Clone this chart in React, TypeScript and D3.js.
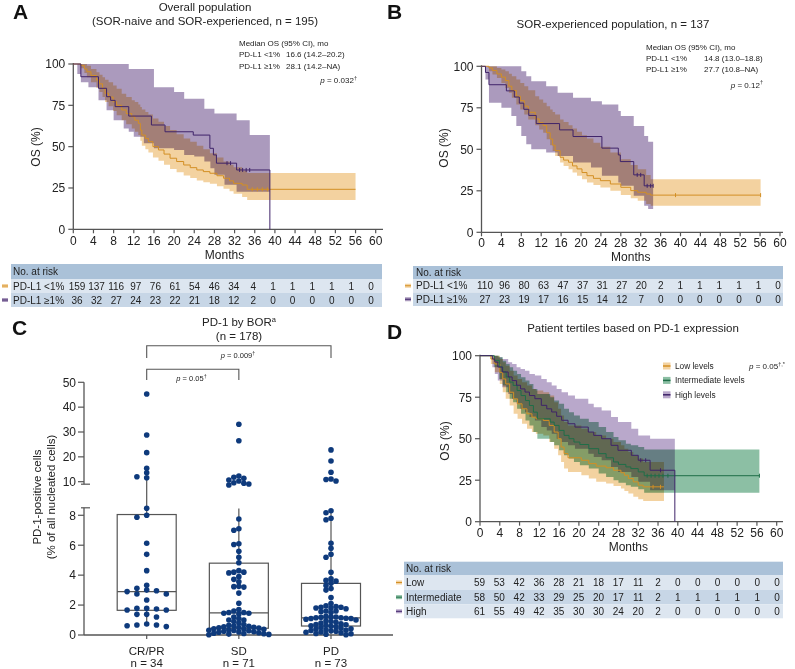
import React from 'react';
import * as d3 from 'd3';

type Pt = [number, number];
type Band = [number, number, number];

const FONT = '"Liberation Sans", Arial, Helvetica, sans-serif';

// ---------- shared ----------
const monthTicks = [0, 4, 8, 12, 16, 20, 24, 28, 32, 36, 40, 44, 48, 52, 56, 60];
const osTicks = [0, 25, 50, 75, 100];

// ---------- Panel A : overall population ----------
const aLowLine: Pt[] = [[0,100],[1.5,99],[2.2,97],[2.7,95.3],[3.5,93],[4.6,90.3],[5.2,88],[5.8,85],[6.3,82.3],[7,80],[7.9,77.2],[8.6,75],[9.6,72.2],[10.5,70],[11.6,68.1],[12.2,66],[12.9,64.1],[13.3,60],[13.6,57],[14.3,55],[14.9,53],[15.8,50],[16.9,48],[18,45.5],[19.2,43],[20.5,41],[21.9,38.9],[23.2,37.3],[24.5,35.9],[25.8,34.9],[27.1,33.9],[28.5,32.4],[29.8,30.9],[31,29.3],[31.8,27.8],[33.5,26.8],[34.5,24.2],[56,24.2]];
const aLowBand: Band[] = [[0,100,100],[1.5,97.5,100],[2.2,94.5,100],[2.7,92,99],[3.5,89,97],[4.6,85.5,95],[5.2,83,93.5],[5.8,80,92],[6.3,77,90.5],[7,74.5,89],[7.9,71.5,87],[8.6,69,85],[9.6,66,82],[10.5,63.5,80],[11.6,61,78],[12.2,59,77],[12.9,57,75.5],[13.3,53.5,74],[13.6,50.5,72.5],[14.3,48.5,71],[14.9,46.5,69.5],[15.8,43.5,67],[16.9,41.5,65],[18,39,62.5],[19.2,36.5,60],[20.5,34.5,57.5],[21.9,32.5,55],[23.2,31,53],[24.5,29.5,50.5],[25.8,28.5,48.5],[27.1,27.5,46],[28.5,26,43.5],[29.8,24.5,41],[31,23,39],[31.8,21.5,37.5],[33.5,19.5,35.5],[34.5,17.7,34],[56,17.7,34]];
const aHighLine: Pt[] = [[0,100],[1.5,92.3],[5,85.3],[6.6,80.2],[7.4,78],[8.3,74.2],[11,68.5],[15.5,63.1],[18.2,59],[23.8,57],[27.1,49],[27.8,45],[28.4,40],[32.4,35.9],[39,0]];
const aHighBand: Band[] = [[0,100,100],[0.8,94,100],[1.5,89,100],[3,86,100],[5,78,100],[6.6,72,100],[8,66,100],[10,61,100],[11,59,97],[12,56,97],[14,52,97],[16,49,86],[20,48,83],[22,45,79],[24,44,79],[26,41,73],[27.2,37,73],[28,33,70],[30,27,70],[32.4,22.7,66],[35,22.7,57],[39,22.7,57]];
const aLowCensor = [35.5, 36.5, 37.5, 38.5];
const aHighCensor = [30.5, 31.2, 33, 33.6, 34.3, 35];
const aRiskLow = [159,137,116,97,76,61,54,46,34,4,1,1,1,1,1,0];
const aRiskHigh = [36,32,27,24,23,22,21,18,12,2,0,0,0,0,0,0];

// ---------- Panel B : SOR-experienced ----------
const bLowLine: Pt[] = [[0,100],[1.5,99],[2.2,97.5],[3.1,95.4],[4,93.5],[4.8,91.4],[5.5,88],[6.1,85.4],[7,82],[7.8,79.3],[8.6,76],[9.4,72.3],[10.8,68.3],[11.6,66],[12.4,64.3],[13.1,60],[13.8,56.2],[14.3,52.5],[14.8,49.2],[15.8,45.2],[16.5,43.5],[17.5,42.2],[18.3,40],[19.2,38.2],[20.2,36],[21.2,34.1],[22.5,32.5],[23.9,31.1],[25.9,29.1],[28,27.1],[30,25.1],[31.4,24.1],[33.1,23.1],[34,22.4],[56.1,22.4]];
const bLowBand: Band[] = [[0,100,100],[1.5,97,100],[2.2,95,100],[3.1,93,99],[4,90,98],[4.8,87,97],[5.5,84,95.5],[6.1,81,94],[7,77,92],[7.8,74,90],[8.6,71,88],[9.4,68,85.5],[10.8,64.5,82],[11.6,62,80],[12.4,60,78],[13.1,56,76],[13.8,52.5,74],[14.3,49,72.5],[14.8,46,71],[15.8,42,68],[16.5,40,66.5],[17.5,38,64.5],[18.3,36,62.5],[19.2,34,60.5],[20.2,32,58.5],[21.2,30,56.5],[22.5,28.5,54],[23.9,27,51.5],[25.9,25,48],[28,22.5,44],[30,20.5,40.5],[31.4,19,38],[33.1,17,34.5],[34,16,32],[56.1,16,32]];
const bHighLine: Pt[] = [[0,100],[0.8,96.3],[1.5,88.9],[5,85.2],[6.6,81.5],[7.6,77.8],[8.5,74.1],[9.5,70.4],[11,65.5],[15.7,61.7],[18.4,57.7],[24.2,50.7],[27.5,46.6],[27.9,42.6],[30.6,34.6],[32.7,28],[34.5,28]];
const bHighBand: Band[] = [[0,100,100],[0.8,92,100],[1.5,78,100],[4,75,100],[6,70,100],[7,64,100],[8,58,97],[9,53,94],[10,50,91],[13,48,88],[15.3,46,84],[18.4,42,81],[22,39,79],[24.2,34,77],[27.5,30,73],[28,28,70],[30.6,22,64],[32.7,16,58],[33.5,14,54.5],[34.5,14,54.5]];
const bLowCensor = [39, 56.1];
const bHighCensor = [31.3, 32, 33.3, 34, 34.5];
const bRiskLow = [110,96,80,63,47,37,31,27,20,2,1,1,1,1,1,0];
const bRiskHigh = [27,23,19,17,16,15,14,12,7,0,0,0,0,0,0,0];

// ---------- Panel C : PD-1 by BOR ----------
const borCategories = ['CR/PR', 'SD', 'PD'];
const borN = ['n = 34', 'n = 71', 'n = 73'];
const crprValues = [45.3,28.8,21.7,15.4,13.6,12.0,11.6,8.47,8.0,7.87,6.13,5.39,4.3,3.32,3.12,3.0,2.96,2.9,2.74,2.74,2.34,1.78,1.78,1.74,1.67,1.67,1.38,1.38,1.2,0.74,0.67,0.67,0.62,0.56];
const sdValues = [33.1,26.5,12.3,11.8,11.4,10.7,10.3,9.6,9.4,9.1,8.7,7.75,7.1,7.0,6.1,6.05,5.6,5.2,4.83,4.3,4.2,4.2,4.15,3.9,3.72,3.56,3.25,3.23,3.2,2.8,2.12,1.7,1.6,1.5,1.5,1.45,1.45,1.4,1.2,1.1,1.0,1.0,0.9,0.8,0.7,0.65,0.6,0.58,0.55,0.52,0.5,0.48,0.46,0.42,0.4,0.38,0.35,0.32,0.3,0.28,0.25,0.22,0.2,0.18,0.15,0.12,0.1,0.08,0.06,0.04,0.02];
const pdValues = [22.8,18.3,13.8,11.1,10.9,10.3,8.3,8.17,7.8,7.7,6.13,5.8,5.4,5.2,4.19,3.75,3.65,3.6,3.45,3.3,3.1,3.0,2.5,2.1,1.95,1.9,1.85,1.85,1.8,1.8,1.75,1.6,1.6,1.55,1.5,1.25,1.2,1.2,1.18,1.15,1.15,1.12,1.1,1.1,1.05,1.0,0.95,0.9,0.85,0.8,0.75,0.7,0.68,0.65,0.62,0.58,0.55,0.5,0.45,0.42,0.4,0.35,0.32,0.3,0.28,0.25,0.2,0.18,0.15,0.1,0.08,0.05,0.02];
const boxQ1 = [1.65, 0.45, 0.6];
const boxMedian = [2.9, 1.48, 1.15];
const boxQ3 = [8.05, 4.8, 3.45];
const whiskerHi = [11.6, 8.45, 8.3];
const whiskerLo = [0.6, 0.05, 0.05];
const cUpperTicks = [10, 20, 30, 40, 50];
const cLowerTicks = [0, 2, 4, 6, 8];

// ---------- Panel D : PD-1 tertiles ----------
const dLowLine: Pt[] = [[0,100],[2.2,98],[3,95],[4,90],[4.6,86],[5.2,83],[6,78],[6.8,74],[7.6,71],[8.5,68],[9.5,65],[10.5,63],[11.3,62],[12.8,61],[14,58],[15,54],[15.8,50],[16.4,45],[17,41],[17.8,38.5],[20.5,37],[22,35],[23.5,33.5],[25.5,32.5],[27,31],[28.5,29.5],[29.2,28],[30,26],[31,24],[32,22],[33,21],[37.2,21]];
const dLowBand: Band[] = [[0,100,100],[2.2,95,100],[3,90,100],[4,83,98],[4.6,78,96],[5.2,74,94],[6,70,91],[6.8,65,88],[7.6,62,86],[8.5,59,84],[9.5,56,82],[10.5,54,80],[11.3,53,79],[12.8,52,78],[14,48,76],[15,44,72],[15.8,40,68],[16.4,36,64],[17,32,60],[17.8,30,58],[20.5,28,56],[22,26,54],[23.5,24,52],[25.5,23,50],[27,21.5,48],[28.5,20,46],[29.2,18.5,44],[30,17,42],[31,15,40],[32,13.5,38],[33,12.5,36],[37.2,12.5,35]];
const dIntLine: Pt[] = [[0,100],[2.9,97.2],[3.9,93.2],[4.6,90.2],[5.3,87.2],[6,84.1],[6.7,82.1],[7.5,79],[8.3,76],[9.2,73],[10,70],[10.8,66],[11.6,62],[14.2,60],[15,58],[16,55],[17,52],[18,50],[19,48],[20.2,46.5],[22,44],[24,41],[25.5,38.5],[27,36],[28,34.5],[29.5,33],[30.5,32],[32,30],[33.2,27.7],[56.5,27.7]];
const dIntBand: Band[] = [[0,100,100],[2.9,93,100],[3.9,86,99],[4.6,82,97],[5.3,78,95],[6,74,93],[6.7,72,91],[7.5,68,89],[8.3,65,87],[9.2,61,85],[10,58,83],[10.8,54,80],[11.6,50,77],[14.2,48,75],[15,46,73],[16,43,71],[17,40,68],[18,38,66],[19,36,64],[20.2,34,62],[22,32,60],[24,29,57],[25.5,27,54],[27,25,51],[28,23.5,49],[29.5,22,47],[30.5,21,46],[32,19.5,45],[33.2,17.5,43.5],[56.5,17.5,43.5]];
const dHighLine: Pt[] = [[0,100],[2.5,98],[3,96.2],[3.6,93.2],[4.5,90.2],[5.7,87.2],[6.5,85],[7.4,82.2],[8.2,80],[9.1,78.1],[10,76],[11.1,74.1],[12.4,70.1],[13.5,68],[14.5,66.1],[15.5,63.5],[16.5,61.1],[17.8,59],[19.2,57],[21.9,54],[23,52],[24.6,50],[26.5,46],[27.9,43],[30.6,40],[32,37],[34.4,31],[39.4,0]];
const dHighBand: Band[] = [[0,100,100],[2.5,93,100],[3,89,100],[3.6,85,99],[4.5,81,98],[5.7,77,96],[6.5,74,95],[7.4,71,93],[8.2,68,92],[9.1,66,91],[10,63,89],[11.1,61,88],[12.4,57,86],[13.5,55,84],[14.5,53,82],[15.5,50,80],[16.5,48,78],[17.8,46,76],[19.2,44,74],[21.9,41,71],[23,39,69],[24.6,37,67],[26.5,33,63],[27.9,30,60],[30.6,27,56],[32,24,52],[34.4,19,50],[39.4,19,50]];
const dLowCensor = [35, 36.5];
const dIntCensor = [33.8, 34.6, 35.4, 36.2, 37, 38, 56.5];
const dHighCensor = [32.5, 33.5, 36.5];
const dRiskLow = [59,53,42,36,28,21,18,17,11,2,0,0,0,0,0,0];
const dRiskInt = [58,50,42,33,29,25,20,17,11,2,1,1,1,1,1,0];
const dRiskHigh = [61,55,49,42,35,30,30,24,20,2,0,0,0,0,0,0];
const dLegend = ['Low levels', 'Intermediate levels', 'High levels'];

// ---------- colours ----------
const ORANGE_LINE = '#d38f24';
const ORANGE_BAND = '#f3d2a0';
const PURPLE_LINE = '#3f2369';
const PURPLE_BAND = '#ab9abd';
const PURPLE_BAND_D = '#b9a8cb';
const GREEN_LINE = '#1f6e48';
const GREEN_BAND = '#8cbfa4';
const AXIS = '#555';
const DOT = '#0e3a7c';
const TBL_HEAD = '#aac1d8';
const TBL_LIGHT = '#dde6f0';
const TBL_DARK = '#c7d6e6';

interface Series { line: Pt[]; band: Band[]; lineColor: string; bandColor: string; censor: number[] }

function survAt(line: Pt[], t: number) {
  let v = line[0][1];
  for (const [m, s] of line) if (m <= t) v = s;
  return v;
}

function PText({ x, y, anchor, val, sup, size }: { x: number; y: number; anchor: string; val: string; sup: string; size: number }) {
  return (
    <text x={x} y={y} textAnchor={anchor as any} fontSize={size} fill="#222">
      <tspan fontStyle="italic">p</tspan> = {val}
      <tspan dy={-size * 0.4} fontSize={size * 0.7}>{sup}</tspan>
    </text>
  );
}

function KMPanel({ x, y, series, axisEnd, tickLabelY, monthsY, osX, osY }: {
  x: d3.ScaleLinear<number, number>; y: d3.ScaleLinear<number, number>; series: Series[];
  axisEnd: number; tickLabelY: number; monthsY: number; osX: number; osY: number;
}) {
  const line = d3.line<Pt>().x(d => x(d[0])).y(d => y(d[1])).curve(d3.curveStepAfter);
  const area = d3.area<Band>().x(d => x(d[0])).y0(d => y(d[1])).y1(d => y(d[2])).curve(d3.curveStepAfter);
  const x0 = x(0);
  const y0 = y(0);
  return (
    <g>
      {series.map((s, i) => (
        <path key={'b' + i} d={area(s.band) || ''} fill={s.bandColor} style={{ mixBlendMode: 'multiply' }} />
      ))}
      <line x1={x0} x2={x0} y1={y0} y2={y(100) - 1} stroke={AXIS} strokeWidth={1.3} />
      <line x1={x0} x2={axisEnd} y1={y0} y2={y0} stroke={AXIS} strokeWidth={1.3} />
      {osTicks.map(t => (
        <g key={'yt' + t}>
          <line x1={x0 - 5} x2={x0} y1={y(t)} y2={y(t)} stroke={AXIS} strokeWidth={1.2} />
          <text x={x0 - 8} y={y(t) + 4.3} textAnchor="end" fontSize={12} fill="#222">{t}</text>
        </g>
      ))}
      {monthTicks.map(t => (
        <g key={'xt' + t}>
          <line x1={x(t)} x2={x(t)} y1={y0} y2={y0 + 4} stroke={AXIS} strokeWidth={1.2} />
          <text x={x(t)} y={tickLabelY} textAnchor="middle" fontSize={12} fill="#222">{t}</text>
        </g>
      ))}
      <text x={(x0 + x(60)) / 2} y={monthsY} textAnchor="middle" fontSize={12} fill="#222">Months</text>
      <text transform={`translate(${osX},${osY}) rotate(-90)`} textAnchor="middle" fontSize={12} fill="#222">OS (%)</text>
      {series.map((s, i) => (
        <path key={'l' + i} d={line(s.line) || ''} fill="none" stroke={s.lineColor} strokeWidth={1} />
      ))}
      {series.map((s, i) => s.censor.map((c, j) => (
        <line key={'c' + i + '-' + j} x1={x(c)} x2={x(c)} y1={y(survAt(s.line, c)) - 2} y2={y(survAt(s.line, c)) + 2} stroke={s.lineColor} strokeWidth={1} />
      )))}
    </g>
  );
}

interface RiskRow { label: string; values: number[]; bg: string; swatch: string; swatchLine: string }

function RiskTable({ left, right, headerTop, headerBottom, rowBottoms, col, rows, labelX, swatchX, swatchW }: {
  left: number; right: number; headerTop: number; headerBottom: number; rowBottoms: number[];
  col: d3.ScaleLinear<number, number>; rows: RiskRow[]; labelX: number; swatchX: number; swatchW: number;
}) {
  const tops = [headerBottom, ...rowBottoms.slice(0, -1)];
  return (
    <g fontSize={10} fill="#222">
      <rect x={left} y={headerTop} width={right - left} height={headerBottom - headerTop} fill={TBL_HEAD} />
      <text x={labelX} y={(headerTop + headerBottom) / 2 + 3.6}>No. at risk</text>
      {rows.map((r, i) => {
        const top = tops[i];
        const bottom = rowBottoms[i];
        const cy = (top + bottom) / 2;
        return (
          <g key={r.label}>
            <rect x={left} y={top} width={right - left} height={bottom - top} fill={r.bg} />
            <rect x={swatchX} y={cy - 2} width={swatchW} height={4} fill={r.swatch} />
            <line x1={swatchX} x2={swatchX + swatchW} y1={cy} y2={cy} stroke={r.swatchLine} strokeWidth={1} />
            <text x={labelX} y={cy + 3.6}>{r.label}</text>
            {r.values.map((v, j) => (
              <text key={j} x={col(monthTicks[j])} y={cy + 3.6} textAnchor="middle">{v}</text>
            ))}
          </g>
        );
      })}
    </g>
  );
}

// column-slot beeswarm: points sharing a slot must be at least dyMin apart vertically
function swarm(values: number[], yFn: (v: number) => number, step: number, dyMin: number) {
  const pts = values.map(v => ({ v, y: yFn(v) })).sort((a, b) => a.y - b.y);
  const placed: { v: number; y: number; slot: number }[] = [];
  for (const p of pts) {
    let slot = 0;
    for (let k = 0; k < 60; k++) {
      const s = k === 0 ? 0 : (k % 2 === 1 ? -1 : 1) * Math.ceil(k / 2);
      if (placed.every(q => q.slot !== s || Math.abs(q.y - p.y) >= dyMin)) { slot = s; break; }
    }
    placed.push({ ...p, slot });
  }
  return placed.map(p => ({ ...p, dx: p.slot * step }));
}

function PanelC() {
  const yLow = d3.scaleLinear().domain([0, 8.5]).range([635, 507.8]);
  const yHigh = d3.scaleLinear().domain([10, 50]).range([481.7, 382.3]);
  const yv = (v: number) => (v > 8.6 ? yHigh(v) : yLow(v));
  const xc = d3.scalePoint<string>().domain(borCategories).range([146.7, 331]);
  const axisX = 84;
  const groups = [crprValues, sdValues, pdValues];
  const steps = [9.8, 5, 5];
  const halfW = 29.5;
  return (
    <g fill="#222">
      <text x={239} y={326} textAnchor="middle" fontSize={11.5}>PD-1 by BOR<tspan dy={-4} fontSize={7.5}>a</tspan></text>
      <text x={239} y={339.5} textAnchor="middle" fontSize={11.5}>(n = 178)</text>
      <path d={`M${xc('CR/PR')},358V345.7H${xc('PD')}V358`} fill="none" stroke={AXIS} strokeWidth={1.1} />
      <PText x={238} y={358.3} anchor="middle" val="0.009" sup="†" size={7.5} />
      <path d={`M${xc('CR/PR')},380V369.3H${xc('SD')}V380`} fill="none" stroke={AXIS} strokeWidth={1.1} />
      <PText x={191.5} y={380.5} anchor="middle" val="0.05" sup="†" size={7.5} />
      <line x1={axisX} x2={axisX} y1={yHigh(50)} y2={yHigh(9)} stroke={AXIS} strokeWidth={1.3} />
      <line x1={axisX - 3} x2={axisX + 6} y1={yHigh(9)} y2={yHigh(9)} stroke={AXIS} strokeWidth={1.2} />
      <line x1={axisX} x2={axisX} y1={yLow(8.5)} y2={yLow(0)} stroke={AXIS} strokeWidth={1.3} />
      <line x1={axisX - 3} x2={axisX + 6} y1={yLow(8.5)} y2={yLow(8.5)} stroke={AXIS} strokeWidth={1.2} />
      {cUpperTicks.map(t => (
        <g key={'u' + t}>
          <line x1={axisX - 6} x2={axisX} y1={yHigh(t)} y2={yHigh(t)} stroke={AXIS} strokeWidth={1.2} />
          <text x={axisX - 8} y={yHigh(t) + 4.3} textAnchor="end" fontSize={12}>{t}</text>
        </g>
      ))}
      {cLowerTicks.map(t => (
        <g key={'l' + t}>
          <line x1={axisX - 6} x2={axisX} y1={yLow(t)} y2={yLow(t)} stroke={AXIS} strokeWidth={1.2} />
          <text x={axisX - 8} y={yLow(t) + 4.3} textAnchor="end" fontSize={12}>{t}</text>
        </g>
      ))}
      <text transform="translate(41,497) rotate(-90)" textAnchor="middle" fontSize={11.5}>PD-1-positive cells</text>
      <text transform="translate(55,497) rotate(-90)" textAnchor="middle" fontSize={11.5}>(% of all nucleated cells)</text>
      <line x1={axisX} x2={393} y1={yLow(0)} y2={yLow(0)} stroke={AXIS} strokeWidth={1.3} />
      {borCategories.map((c, i) => (
        <g key={c}>
          <line x1={xc(c)} x2={xc(c)} y1={yLow(0)} y2={yLow(0) + 4} stroke={AXIS} strokeWidth={1.2} />
          <text x={xc(c)} y={655} textAnchor="middle" fontSize={11.5}>{c}</text>
          <text x={xc(c)} y={666.5} textAnchor="middle" fontSize={11.5}>{borN[i]}</text>
        </g>
      ))}
      {borCategories.map((c, i) => {
        const cx = xc(c)!;
        return (
          <g key={'box' + c} stroke="#555" strokeWidth={1.2} fill="none">
            <line x1={cx} x2={cx} y1={yv(boxQ3[i])} y2={yv(whiskerHi[i])} />
            <line x1={cx} x2={cx} y1={yv(boxQ1[i])} y2={yv(whiskerLo[i])} />
            <rect x={cx - halfW} y={yv(boxQ3[i])} width={halfW * 2} height={yv(boxQ1[i]) - yv(boxQ3[i])} />
            <line x1={cx - halfW} x2={cx + halfW} y1={yv(boxMedian[i])} y2={yv(boxMedian[i])} />
          </g>
        );
      })}
      {groups.map((vals, i) => {
        const cx = xc(borCategories[i])!;
        return swarm(vals, yv, steps[i], 4.2).map((p, j) => (
          <circle key={i + '-' + j} cx={cx + p.dx} cy={p.y} r={2.8} fill={DOT} />
        ));
      })}
    </g>
  );
}

export default function App() {
  const xA = d3.scaleLinear().domain([0, 60]).range([73.3, 375.7]);
  const yA = d3.scaleLinear().domain([0, 100]).range([229.3, 64]);
  const xB = d3.scaleLinear().domain([0, 60]).range([481.5, 780]);
  const yB = d3.scaleLinear().domain([0, 100]).range([232.3, 66.3]);
  const xD = d3.scaleLinear().domain([0, 60]).range([480, 776.7]);
  const yD = d3.scaleLinear().domain([0, 100]).range([521.7, 355.7]);
  const colA = d3.scaleLinear().domain([0, 60]).range([77, 371]);
  const colB = d3.scaleLinear().domain([0, 60]).range([485, 778]);
  const colD = d3.scaleLinear().domain([0, 60]).range([479.5, 777]);

  const seriesA: Series[] = [
    { line: aLowLine, band: aLowBand, lineColor: ORANGE_LINE, bandColor: ORANGE_BAND, censor: aLowCensor },
    { line: aHighLine, band: aHighBand, lineColor: PURPLE_LINE, bandColor: PURPLE_BAND, censor: aHighCensor },
  ];
  const seriesB: Series[] = [
    { line: bLowLine, band: bLowBand, lineColor: ORANGE_LINE, bandColor: ORANGE_BAND, censor: bLowCensor },
    { line: bHighLine, band: bHighBand, lineColor: PURPLE_LINE, bandColor: PURPLE_BAND, censor: bHighCensor },
  ];
  const seriesD: Series[] = [
    { line: dLowLine, band: dLowBand, lineColor: ORANGE_LINE, bandColor: ORANGE_BAND, censor: dLowCensor },
    { line: dIntLine, band: dIntBand, lineColor: GREEN_LINE, bandColor: GREEN_BAND, censor: dIntCensor },
    { line: dHighLine, band: dHighBand, lineColor: PURPLE_LINE, bandColor: PURPLE_BAND_D, censor: dHighCensor },
  ];
  const legendColors = [[ORANGE_BAND, ORANGE_LINE], [GREEN_BAND, GREEN_LINE], [PURPLE_BAND_D, PURPLE_LINE]];

  return (
    <svg width={795} height={669} style={{ position: 'absolute', left: 0, top: 0, fontFamily: FONT }}>
      <rect width={795} height={669} fill="#fff" />
      <g fontSize={21} fontWeight="bold" fill="#111">
        <text x={13} y={19}>A</text>
        <text x={387} y={19}>B</text>
        <text x={12} y={335}>C</text>
        <text x={387} y={339}>D</text>
      </g>

      <g fill="#222">
        <text x={205} y={11} textAnchor="middle" fontSize={11.5}>Overall population</text>
        <text x={205} y={25} textAnchor="middle" fontSize={11.5}>(SOR-naive and SOR-experienced, n = 195)</text>
        <g fontSize={8}>
          <text x={239} y={46}>Median OS (95% CI), mo</text>
          <text x={239} y={57}>PD-L1 &lt;1%</text>
          <text x={286} y={57}>16.6 (14.2–20.2)</text>
          <text x={239} y={68.5}>PD-L1 ≥1%</text>
          <text x={286} y={68.5}>28.1 (14.2–NA)</text>
        </g>
        <PText x={357} y={83} anchor="end" val="0.032" sup="†" size={8} />
      </g>
      <KMPanel x={xA} y={yA} series={seriesA} axisEnd={383} tickLabelY={244.5} monthsY={258.5} osX={40} osY={147} />
      <RiskTable left={11} right={382} headerTop={264} headerBottom={279} rowBottoms={[293, 307]} col={colA}
        labelX={13} swatchX={2} swatchW={6}
        rows={[
          { label: 'PD-L1 <1%', values: aRiskLow, bg: TBL_LIGHT, swatch: ORANGE_BAND, swatchLine: ORANGE_LINE },
          { label: 'PD-L1 ≥1%', values: aRiskHigh, bg: TBL_DARK, swatch: PURPLE_BAND, swatchLine: PURPLE_LINE },
        ]} />

      <g fill="#222">
        <text x={613} y={28} textAnchor="middle" fontSize={11.5}>SOR-experienced population, n = 137</text>
        <g fontSize={8}>
          <text x={646} y={49.5}>Median OS (95% CI), mo</text>
          <text x={646} y={60.5}>PD-L1 &lt;1%</text>
          <text x={704} y={60.5}>14.8 (13.0–18.8)</text>
          <text x={646} y={71.5}>PD-L1 ≥1%</text>
          <text x={704} y={71.5}>27.7 (10.8–NA)</text>
        </g>
        <PText x={763} y={87.5} anchor="end" val="0.12" sup="†" size={8} />
      </g>
      <KMPanel x={xB} y={yB} series={seriesB} axisEnd={783} tickLabelY={246.5} monthsY={261} osX={448} osY={148} />
      <RiskTable left={413} right={783} headerTop={266} headerBottom={279} rowBottoms={[292.5, 306]} col={colB}
        labelX={416} swatchX={405} swatchW={6}
        rows={[
          { label: 'PD-L1 <1%', values: bRiskLow, bg: TBL_LIGHT, swatch: ORANGE_BAND, swatchLine: ORANGE_LINE },
          { label: 'PD-L1 ≥1%', values: bRiskHigh, bg: TBL_DARK, swatch: PURPLE_BAND, swatchLine: PURPLE_LINE },
        ]} />

      <PanelC />

      <text x={633} y={332} textAnchor="middle" fontSize={11.5} fill="#222">Patient tertiles based on PD-1 expression</text>
      <KMPanel x={xD} y={yD} series={seriesD} axisEnd={783} tickLabelY={536.5} monthsY={550.5} osX={448.5} osY={441} />
      <g fontSize={8.3} fill="#222">
        {dLegend.map((l, i) => {
          const cy = 366 + i * 14.4;
          return (
            <g key={l}>
              <rect x={663} y={cy - 3.5} width={7.5} height={7} fill={legendColors[i][0]} />
              <line x1={663} x2={670.5} y1={cy} y2={cy} stroke={legendColors[i][1]} strokeWidth={1.5} />
              <text x={675} y={cy + 3}>{l}</text>
            </g>
          );
        })}
      </g>
      <PText x={785} y={369} anchor="end" val="0.05" sup="†,*" size={8} />
      <RiskTable left={404} right={783} headerTop={561.7} headerBottom={575} rowBottoms={[590, 604.3, 618.3]} col={colD}
        labelX={406} swatchX={396} swatchW={6}
        rows={[
          { label: 'Low', values: dRiskLow, bg: TBL_LIGHT, swatch: ORANGE_BAND, swatchLine: ORANGE_LINE },
          { label: 'Intermediate', values: dRiskInt, bg: TBL_DARK, swatch: GREEN_BAND, swatchLine: GREEN_LINE },
          { label: 'High', values: dRiskHigh, bg: TBL_LIGHT, swatch: PURPLE_BAND_D, swatchLine: PURPLE_LINE },
        ]} />
    </svg>
  );
}
